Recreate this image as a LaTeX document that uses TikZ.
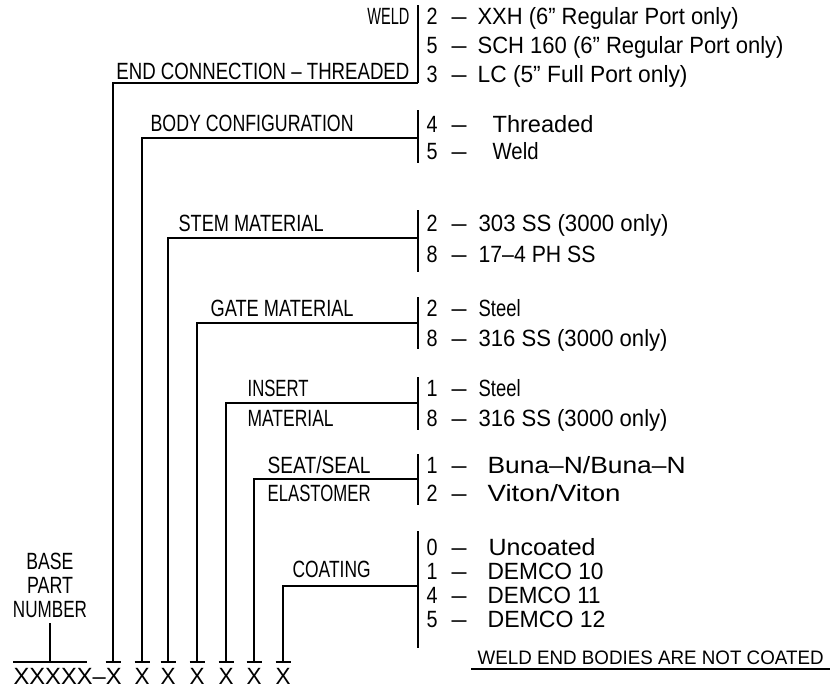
\documentclass[tikz,border=0pt]{standalone}
\usepackage{fontspec}
\setmainfont{Liberation Sans}
\usepackage{graphicx}
\newlength\fitlen
\newcommand\fitto[2]{\settowidth{\fitlen}{#2}\pgfmathsetmacro\fitsx{#1/\fitlen}\scalebox{\fitsx}[1]{#2}}
\newcommand\optrow[6]{%
  \node[txt,anchor=base west] (#1-n) at (426,#2) {\fitto{11}{#3}};
  \node[txt,anchor=base west] (#1-d) at (451,#2) {\fitto{15}{–}};
  \node[txt,anchor=base west] (#1-t) at (#4,#2) {\fitto{#5}{#6}};}
\begin{document}
\begin{tikzpicture}[x=1pt,y=-1pt,line width=1.2pt,
  txt/.style={inner sep=0pt,font=\fontsize{23.5}{26}\selectfont},
  notetxt/.style={inner sep=0pt,font=\fontsize{19.5}{22}\selectfont}]
\useasboundingbox (0,0) rectangle (830,689);

% ---- labels ----
\node[txt,anchor=base east] (weld) at (410,24) {\fitto{42}{WELD}};
\node[txt,anchor=base east] (endc) at (410,79) {\fitto{293}{END CONNECTION – THREADED}};
\node[txt,anchor=base west] (body) at (150,131) {\fitto{203}{BODY CONFIGURATION}};
\node[txt,anchor=base west] (stem) at (178,231) {\fitto{145}{STEM MATERIAL}};
\node[txt,anchor=base west] (gate) at (210,316) {\fitto{143}{GATE MATERIAL}};
\node[txt,anchor=base west] (ins1) at (247,396) {\fitto{61}{INSERT}};
\node[txt,anchor=base west] (ins2) at (247,426) {\fitto{86}{MATERIAL}};
\node[txt,anchor=base west] (seat1) at (267,473) {\fitto{103}{SEAT/SEAL}};
\node[txt,anchor=base west] (seat2) at (267,501) {\fitto{103}{ELASTOMER}};
\node[txt,anchor=base west] (coat) at (292,577) {\fitto{78}{COATING}};
\node[txt,anchor=base] (base1) at (50,569) {\fitto{47}{BASE}};
\node[txt,anchor=base] (base2) at (50,593) {\fitto{46}{PART}};
\node[txt,anchor=base] (base3) at (50,617) {\fitto{74}{NUMBER}};
\node[txt,anchor=base west] (pn) at (13,684) {\fitto{108}{XXXXX–X}};
\foreach \x [count=\i] in {142,168,197,226,254,283}
  \node[txt,anchor=base] (px\i) at (\x,684) {\fitto{15}{X}};
\node[notetxt,anchor=base west] (note) at (477,664) {\fitto{346}{WELD END BODIES ARE NOT COATED}};
\coordinate (ul1) at (471,669);
\coordinate (ul2) at (830,669);
\draw (ul1) -- (ul2);

% ---- options ----
\optrow{a1}{24}{2}{477}{261}{XXH (6” Regular Port only)}
\optrow{a2}{53}{5}{477}{306}{SCH 160 (6” Regular Port only)}
\optrow{a3}{82}{3}{477}{210}{LC (5” Full Port only)}
\optrow{b1}{132}{4}{492}{101}{Threaded}
\optrow{b2}{159}{5}{492}{46}{Weld}
\optrow{c1}{231}{2}{478}{190}{303 SS (3000 only)}
\optrow{c2}{262}{8}{478}{117}{17–4 PH SS}
\optrow{d1}{316}{2}{478}{42}{Steel}
\optrow{d2}{346}{8}{478}{189}{316 SS (3000 only)}
\optrow{e1}{396}{1}{478}{42}{Steel}
\optrow{e2}{426}{8}{478}{189}{316 SS (3000 only)}
\optrow{f1}{473}{1}{487}{198}{Buna–N/Buna–N}
\optrow{f2}{501}{2}{487}{133}{Viton/Viton}
\optrow{g1}{555}{0}{488}{107}{Uncoated}
\optrow{g2}{579}{1}{487}{116}{DEMCO 10}
\optrow{g3}{603}{4}{487}{113}{DEMCO 11}
\optrow{g4}{627}{5}{487}{118}{DEMCO 12}

% ---- bars ----
\foreach \t/\b [count=\i] in {5/83,110/163,210/272,297/349,377/430,454/505,531/648}{
  \coordinate (bt\i) at (418,\t);
  \coordinate (bb\i) at (418,\b);
  \draw (bt\i) -- (bb\i);
}

% ---- drops ----
\foreach \x/\y [count=\i] in {113/83,142/138,168/238,197/323,226/403,254/479,283/586}{
  \coordinate (d\i) at (\x,662);
  \coordinate (h\i) at (418,\y);
  \draw (d\i) |- (h\i);
  \draw ([xshift=-7.5pt]d\i) -- ([xshift=7.5pt]d\i);
}

% ---- base part number ----
\coordinate (bl) at (13,662);
\coordinate (br) at (87,662);
\coordinate (bv) at (50,623);
\coordinate (bvb) at (50,662);
\draw (bl) -- (br);
\draw (bv) -- (bvb);
\end{tikzpicture}
\end{document}
